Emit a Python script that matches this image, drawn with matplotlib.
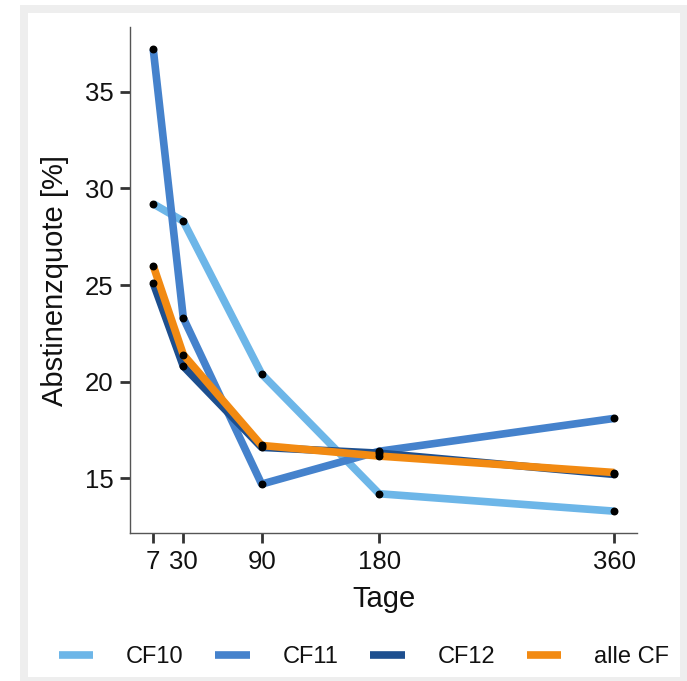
import matplotlib
matplotlib.use("Agg")
import matplotlib.pyplot as plt
from matplotlib.patches import Rectangle

plt.rcParams['font.family'] = ['Liberation Sans', 'DejaVu Sans']

tage = [7, 30, 90, 180, 360]
cf10 = [29.2, 28.3, 20.4, 14.2, 13.3]
cf11 = [37.2, 23.3, 14.7, 16.4, 18.1]
cf12 = [25.1, 20.8, 16.6, 16.3, 15.2]
alle_cf = [26.0, 21.4, 16.7, 16.15, 15.3]
labels = ['CF10', 'CF11', 'CF12', 'alle CF']
colors = ['#6db6e8', '#4582cc', '#1d4f8f', '#f28a12']

fig = plt.figure(figsize=(6.87, 6.81), dpi=100)
# grey frame around the white panel
fig.patches.append(Rectangle((20/687, 0), 667/687, 676/681, transform=fig.transFigure,
                             facecolor='#eeeeee', edgecolor='none', zorder=-2))
fig.patches.append(Rectangle((28/687, 4/681), 652/687, 664/681, transform=fig.transFigure,
                             facecolor='white', edgecolor='none', zorder=-1))

ax = fig.add_axes([130/687, 1-533/681, 507/687, 506/681])
ax.patch.set_alpha(0)

series = [cf10, cf11, cf12, alle_cf]
for vals, lab, col in zip(series, labels, colors):
    ax.plot(tage, vals, color=col, lw=5.5, label=lab, solid_capstyle='butt', zorder=2)
for vals in series:
    ax.scatter(tage, vals, color='black', s=22, zorder=3)

ax.set_xlim(-10.8, 377.4)
ax.set_ylim(12.17, 38.35)
ax.set_xticks(tage)
ax.set_yticks([15, 20, 25, 30, 35])
for s in ['top', 'right']:
    ax.spines[s].set_visible(False)
for s in ['left', 'bottom']:
    ax.spines[s].set_color('#555555')
    ax.spines[s].set_linewidth(1.0)
ax.tick_params(length=7, width=2, color='#333333', labelsize=18.5, pad=5, labelcolor='#111111')
ax.set_xlabel('Tage', fontsize=21, labelpad=8, color='#111111')
ax.set_ylabel('Abstinenzquote [%]', fontsize=21, labelpad=11, color='#111111')

fig.legend(loc='center', bbox_to_anchor=(364/687, 1-657/681), ncol=4, frameon=False,
           fontsize=17, handlelength=1.45, handletextpad=1.4, columnspacing=1.35,
           labelcolor='#111111')

fig.savefig('out.png', dpi=100)
